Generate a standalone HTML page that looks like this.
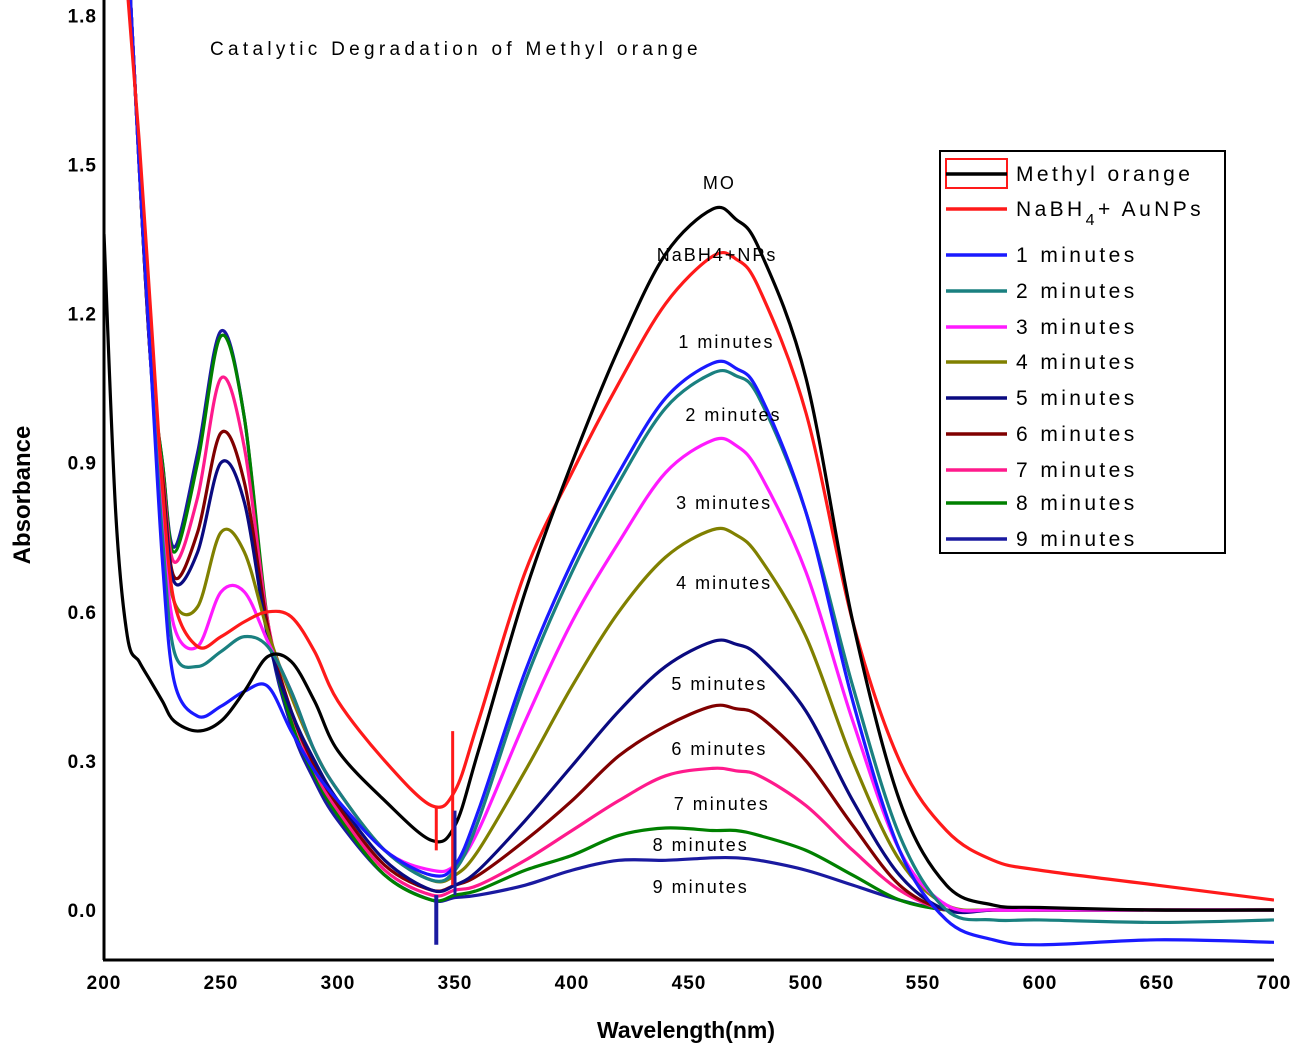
<!DOCTYPE html>
<html><head><meta charset="utf-8"><style>
body{margin:0;background:#fff;}
svg{display:block;font-family:"Liberation Sans",sans-serif;}
</style></head><body>
<svg id="chart" width="1300" height="1050" viewBox="0 0 1300 1050">
<defs><clipPath id="clip"><rect x="104" y="0" width="1170" height="958"/></clipPath></defs>
<g id="series-layer" clip-path="url(#clip)"></g>
<line x1="104" y1="0" x2="104" y2="960" stroke="#000" stroke-width="3"/>
<line x1="103" y1="960" x2="1274" y2="960" stroke="#000" stroke-width="3"/>
<g id="ticks-layer" font-weight="bold" font-size="19" letter-spacing="1"></g>
<text x="210" y="55" font-size="19" letter-spacing="4.3">Catalytic Degradation of Methyl orange</text>
<text transform="translate(30,495) rotate(-90)" text-anchor="middle" font-size="24" font-weight="bold">Absorbance</text>
<text x="686" y="1038" text-anchor="middle" font-size="23" font-weight="bold">Wavelength(nm)</text>
<g id="annot-layer" font-size="18" letter-spacing="2" text-anchor="middle"></g>
<g>
<rect x="940" y="151" width="285" height="402" fill="#fff" stroke="#000" stroke-width="2"/>
<g id="legend-layer" font-size="21" letter-spacing="3.4"></g>
</g>
</svg>
<script>
const wavelengths=[200,205,210,215,220,225,230,240,250,260,270,280,290,300,320,340,350,360,380,400,420,440,460,470,480,500,520,540,560,580,600,650,700];
const seriesNames=["Methyl orange","NaBH4+ AuNPs","1 minutes","2 minutes","3 minutes","4 minutes","5 minutes","6 minutes","7 minutes","8 minutes","9 minutes"];
const seriesColors=["#000000","#ff1a1a","#1a1aff","#1a8080","#ff1aff","#808000","#0a0a80","#800000","#ff1a8c","#008000","#1a1aa0"];
const sMO=[1.36,0.80,0.55,0.50,0.46,0.42,0.38,0.36,0.38,0.44,0.51,0.50,0.42,0.32,0.22,0.14,0.17,0.32,0.64,0.90,1.13,1.32,1.41,1.39,1.33,1.07,0.58,0.22,0.05,0.01,0.005,0.0,0.0];
const sRed=[2.5,2.2,1.85,1.55,1.2,0.85,0.62,0.53,0.55,0.58,0.60,0.59,0.52,0.42,0.30,0.21,0.24,0.38,0.68,0.88,1.06,1.22,1.315,1.31,1.25,1.0,0.58,0.30,0.16,0.10,0.08,0.05,0.02];
const s1=[2.5,2.3,1.95,1.5,1.1,0.7,0.46,0.39,0.41,0.44,0.45,0.36,0.28,0.22,0.12,0.07,0.09,0.20,0.48,0.70,0.88,1.03,1.10,1.09,1.04,0.80,0.42,0.12,-0.02,-0.06,-0.07,-0.06,-0.065];
const s2=[2.5,2.3,1.95,1.5,1.1,0.75,0.52,0.49,0.52,0.55,0.53,0.44,0.32,0.24,0.12,0.06,0.08,0.18,0.46,0.68,0.86,1.01,1.08,1.075,1.03,0.80,0.45,0.15,0.0,-0.02,-0.02,-0.025,-0.02];
const s3=[2.5,2.3,1.95,1.5,1.1,0.78,0.57,0.53,0.64,0.64,0.54,0.44,0.32,0.24,0.12,0.08,0.09,0.16,0.38,0.58,0.74,0.88,0.945,0.935,0.88,0.68,0.38,0.12,0.01,0.0,0.0,0.0,0.0];
const s4=[2.5,2.3,1.95,1.5,1.1,0.80,0.62,0.61,0.76,0.72,0.56,0.43,0.32,0.24,0.12,0.06,0.07,0.12,0.28,0.45,0.60,0.71,0.765,0.755,0.71,0.55,0.30,0.10,0.01,0.0,0.0,0.0,0.0];
const s5=[2.5,2.3,1.95,1.5,1.1,0.85,0.66,0.72,0.90,0.82,0.55,0.40,0.30,0.22,0.10,0.04,0.05,0.08,0.18,0.29,0.40,0.49,0.54,0.535,0.51,0.40,0.22,0.07,0.0,0.0,0.0,0.0,0.0];
const s6=[2.5,2.3,1.95,1.5,1.1,0.87,0.67,0.76,0.96,0.86,0.57,0.40,0.29,0.21,0.09,0.04,0.05,0.07,0.14,0.22,0.31,0.37,0.41,0.405,0.39,0.30,0.17,0.05,0.0,0.0,0.0,0.0,0.0];
const s7=[2.5,2.3,1.95,1.5,1.1,0.88,0.70,0.83,1.07,0.93,0.58,0.40,0.28,0.20,0.08,0.03,0.04,0.05,0.10,0.16,0.22,0.27,0.285,0.28,0.27,0.21,0.12,0.04,0.0,0.0,0.0,0.0,0.0];
const s8=[2.5,2.3,1.95,1.5,1.1,0.90,0.72,0.90,1.155,0.99,0.58,0.38,0.27,0.19,0.07,0.02,0.03,0.04,0.08,0.11,0.15,0.165,0.16,0.16,0.15,0.12,0.07,0.02,0.0,0.0,0.0,0.0,0.0];
const s9=[2.5,2.3,1.95,1.5,1.1,0.90,0.73,0.92,1.165,0.99,0.57,0.37,0.26,0.18,0.07,0.02,0.025,0.03,0.05,0.08,0.10,0.10,0.105,0.105,0.10,0.08,0.05,0.02,0.0,0.0,0.0,0.0,0.0];
const seriesValues=[sMO,sRed,s1,s2,s3,s4,s5,s6,s7,s8,s9];
const xTicks=[200,250,300,350,400,450,500,550,600,650,700];
const yTicks=[0.0,0.3,0.6,0.9,1.2,1.5,1.8];
const annotLabels=["MO","NaBH4+NPs","1 minutes","2 minutes","3 minutes","4 minutes","5 minutes","6 minutes","7 minutes","8 minutes","9 minutes"];
const annotX=[463,462,466,469,465,465,463,463,464,455,455];
const annotY=[1.463,1.318,1.143,0.996,0.819,0.658,0.455,0.324,0.213,0.131,0.046];

const NS="http://www.w3.org/2000/svg";
const xs=v=>104+(v-200)*2.34;
const ys=v=>910-v*497;
function mk(tag,attrs,parent){const e=document.createElementNS(NS,tag);for(const k in attrs)e.setAttribute(k,attrs[k]);parent.appendChild(e);return e;}
function pathFor(vals){
  const p=wavelengths.map((w,i)=>[xs(w),ys(vals[i])]);
  let d="M"+p[0][0]+","+p[0][1];
  for(let i=0;i<p.length-1;i++){
    const p0=p[i-1]||p[i],p1=p[i],p2=p[i+1],p3=p[i+2]||p2;
    const c1x=p1[0]+(p2[0]-p0[0])/6,c1y=p1[1]+(p2[1]-p0[1])/6;
    const c2x=p2[0]-(p3[0]-p1[0])/6,c2y=p2[1]-(p3[1]-p1[1])/6;
    d+=` C${c1x},${c1y} ${c2x},${c2y} ${p2[0]},${p2[1]}`;
  }
  return d;
}
const sl=document.getElementById("series-layer");
for(let i=seriesValues.length-1;i>=0;i--){
  const el=mk("path",{d:pathFor(seriesValues[i]),fill:"none",stroke:seriesColors[i],"stroke-width":3.2,"stroke-linejoin":"round"},sl);
  
  
}
const sp1=mk("line",{x1:xs(342),y1:ys(0.03),x2:xs(342),y2:ys(-0.07),stroke:"#1a1aa0","stroke-width":4},sl);


const sp2=mk("line",{x1:xs(342),y1:ys(0.21),x2:xs(342),y2:ys(0.12),stroke:"#ff1a1a","stroke-width":3},sl);


const sp3=mk("line",{x1:xs(349),y1:ys(0.36),x2:xs(349),y2:ys(0.05),stroke:"#ff1a1a","stroke-width":3},sl);


const sp4=mk("line",{x1:xs(350),y1:ys(0.2),x2:xs(350),y2:ys(0.03),stroke:"#1a1aa0","stroke-width":3},sl);



const tl=document.getElementById("ticks-layer");
xTicks.forEach(t=>{const e=mk("text",{x:xs(t),y:989,"text-anchor":"middle"},tl);e.textContent=t;
  
  });
yTicks.forEach(t=>{const e=mk("text",{x:97,y:ys(t)+7,"text-anchor":"end"},tl);e.textContent=t.toFixed(1);
  
  });

const al=document.getElementById("annot-layer");
annotLabels.forEach((t,i)=>{const e=mk("text",{x:xs(annotX[i]),y:ys(annotY[i])+6},al);e.textContent=t;
  
  });

const ll=document.getElementById("legend-layer");
const rowY=[174,209,255,291,327,362,398,434,470,503,539];
seriesNames.forEach((n,i)=>{
  const g=mk("g",{},ll);
  
  
  if(i===0){mk("rect",{x:946,y:159,width:61,height:29,fill:"none",stroke:"#ff1a1a","stroke-width":2},g);}
  mk("line",{x1:946,y1:rowY[i],x2:1007,y2:rowY[i],stroke:seriesColors[i],"stroke-width":3.5},g);
  const t=mk("text",{x:1016,y:rowY[i]+7},g);
  if(i===1){t.innerHTML='NaBH<tspan dy="9" font-size="16">4</tspan><tspan dy="-9">+ AuNPs</tspan>';}
  else t.textContent=n;
});
</script>
</body></html>
